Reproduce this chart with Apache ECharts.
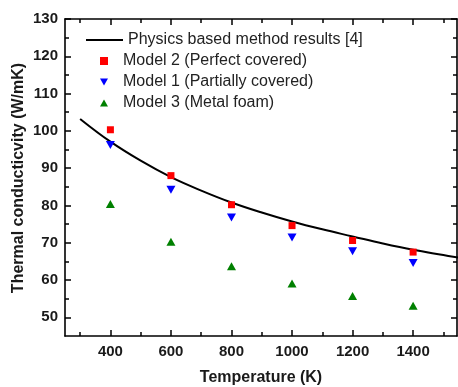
<!DOCTYPE html>
<html><head><meta charset="utf-8">
<script src="https://cdn.jsdelivr.net/npm/echarts@6/dist/echarts.min.js"></script>
<style>html,body{margin:0;padding:0;background:#fff}#c{width:458px;height:387px}</style>
</head><body><div id="c"></div>
<script>
// Data
const temps = [400, 600, 800, 1000, 1200, 1400];
const model2 = [100.3, 88.0, 80.2, 74.6, 70.6, 67.5];
const model1 = [96.2, 84.2, 76.8, 71.4, 67.7, 64.6];
const model3 = [80.4, 70.3, 63.7, 59.1, 55.7, 53.1];
const physicsT = [300, 400, 500, 600, 700, 800, 900, 1000, 1100, 1200, 1300, 1400, 1500, 1550];
const physicsK = [103.2, 97.1, 92.0, 87.6, 84.0, 80.8, 78.1, 75.7, 73.6, 71.7, 69.8, 68.1, 66.7, 66.0];
const xMajorTicks = [400, 600, 800, 1000, 1200, 1400];
const xMinorTicks = [300, 500, 700, 900, 1100, 1300, 1500];
const yMajorTicks = [50, 60, 70, 80, 90, 100, 110, 120, 130];
const yMinorTicks = [55, 65, 75, 85, 95, 105, 115, 125];
const names = ['Physics based method results [4]', 'Model 2 (Perfect covered)', 'Model 1 (Partially covered)', 'Model 3 (Metal foam)'];

const FONT = 'Liberation Sans, Arial, sans-serif';
const XMIN = 250, XMAX = 1545, YMIN = 45, YMAX = 130;

function ax(pos, min, max, ticks, len, labels, showLine, margin) {
  return {
    type: 'value', position: pos, min: min, max: max,
    axisLine: { show: showLine, lineStyle: { color: '#000', width: 1.6 } },
    axisTick: { show: true, inside: true, length: len, customValues: ticks, lineStyle: { color: '#000', width: 1.5 } },
    axisLabel: labels
      ? { show: true, customValues: ticks, formatter: v => String(v), margin: margin, fontFamily: FONT, fontWeight: 'bold', fontSize: 15, color: '#1a1a1a' }
      : { show: false },
    splitLine: { show: false }
  };
}

const chart = echarts.init(document.getElementById('c'));
chart.setOption({
  animation: false,
  backgroundColor: '#fff',
  grid: { left: 65, right: 1, top: 19, bottom: 51 },
  xAxis: [
    ax('bottom', XMIN, XMAX, xMajorTicks, 6, true, true, 8),
    ax('bottom', XMIN, XMAX, xMinorTicks, 4, false, false, 8),
    ax('top', XMIN, XMAX, xMajorTicks, 6, false, true, 8),
    ax('top', XMIN, XMAX, xMinorTicks, 4, false, false, 8)
  ],
  yAxis: [
    ax('left', YMIN, YMAX, yMajorTicks, 6, true, true, 7),
    ax('left', YMIN, YMAX, yMinorTicks, 4, false, false, 7),
    ax('right', YMIN, YMAX, yMajorTicks, 6, false, true, 7),
    ax('right', YMIN, YMAX, yMinorTicks, 4, false, false, 7)
  ],
  legend: [
    {
      data: [{ name: names[0], icon: 'rect' }], left: 86, top: 32, padding: 0, itemWidth: 37, itemHeight: 2, itemGap: 4,
      textStyle: { fontFamily: FONT, fontSize: 16, color: '#222', lineHeight: 16 }
    },
    {
      data: [
        { name: names[1], icon: 'rect' },
        { name: names[2], icon: 'path://M0,0 L10,0 L5,9 Z' },
        { name: names[3], icon: 'path://M5,0 L10,9 L0,9 Z' }
      ],
      orient: 'vertical', left: 100, top: 53, padding: 0,
      itemWidth: 8, itemHeight: 8, itemGap: 5,
      textStyle: { fontFamily: FONT, fontSize: 16, color: '#222', lineHeight: 16, padding: [0, 0, 0, 10] }
    }
  ],
  series: [
    {
      name: names[0], type: 'line', smooth: 0.4, symbol: 'none', showSymbol: false,
      data: physicsT.map((t, i) => [t, physicsK[i]]),
      lineStyle: { color: '#000', width: 2 }, itemStyle: { color: '#000' }, z: 2
    },
    {
      name: names[1], type: 'scatter', symbol: 'rect', symbolSize: 7,
      data: temps.map((t, i) => [t, model2[i]]), itemStyle: { color: '#ff0000', opacity: 1 }, z: 3
    },
    {
      name: names[2], type: 'scatter', symbol: 'triangle', symbolRotate: 180, symbolSize: [9, 8],
      data: temps.map((t, i) => [t, model1[i]]), itemStyle: { color: '#0000ff', opacity: 1 }, z: 3
    },
    {
      name: names[3], type: 'scatter', symbol: 'triangle', symbolSize: [9, 8],
      data: temps.map((t, i) => [t, model3[i]]), itemStyle: { color: '#008000', opacity: 1 }, z: 3
    }
  ],
  graphic: [
    { type: 'text', x: 261, y: 378, style: { text: 'Temperature (K)', font: 'bold 16px ' + FONT, fill: '#1a1a1a', align: 'center', verticalAlign: 'middle' } },
    { type: 'text', x: 19, y: 178, rotation: Math.PI / 2, style: { text: 'Thermal conducticvity (W/mK)', font: 'bold 16px ' + FONT, fill: '#1a1a1a', align: 'center', verticalAlign: 'middle' } }
  ]
});
</script></body></html>
